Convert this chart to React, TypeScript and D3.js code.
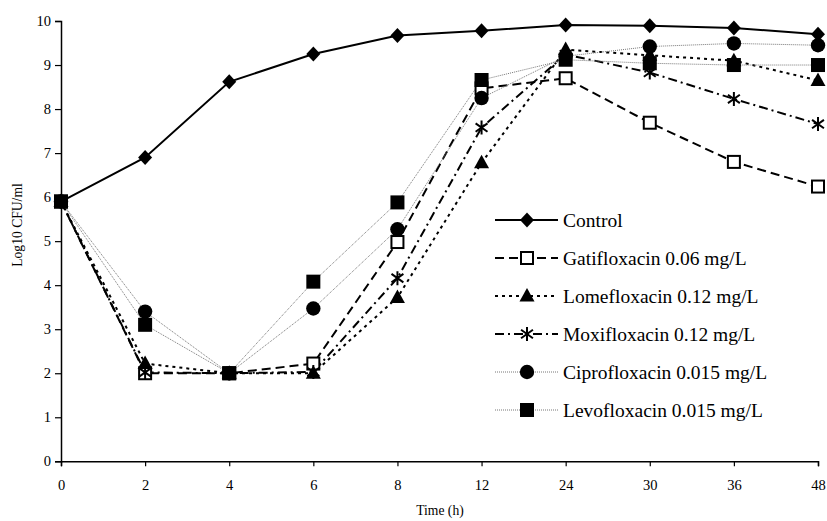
import React, { useEffect, useRef } from "react";
import * as d3 from "d3";

// time points (h) - plotted as equally spaced categories
const times = ["0", "2", "4", "6", "8", "12", "24", "30", "36", "48"];
const yTicks = [0, 1, 2, 3, 4, 5, 6, 7, 8, 9, 10];

const control = [5.9, 6.9, 8.62, 9.25, 9.67, 9.78, 9.91, 9.89, 9.84, 9.7];
const gati = [5.9, 2.0, 2.0, 2.22, 4.98, 8.47, 8.7, 7.69, 6.8, 6.24];
const lome = [5.9, 2.22, 2.0, 2.0, 3.72, 6.78, 9.35, 9.22, 9.1, 8.65];
const moxi = [5.9, 2.02, 2.0, 2.03, 4.16, 7.58, 9.24, 8.83, 8.23, 7.66];
const cipro = [5.9, 3.4, 2.0, 3.47, 5.27, 8.25, 9.2, 9.42, 9.49, 9.45];
const levo = [5.9, 3.1, 2.0, 4.08, 5.88, 8.66, 9.12, 9.04, 9.0, 9.0];

const seriesNames = [
  "Control",
  "Gatifloxacin 0.06 mg/L",
  "Lomefloxacin 0.12 mg/L",
  "Moxifloxacin 0.12 mg/L",
  "Ciprofloxacin 0.015 mg/L",
  "Levofloxacin 0.015 mg/L",
];

const FONT = "'Liberation Serif', 'Times New Roman', serif";

type Style = { stroke: string; width: number; dash: string | null; marker: string };

const styles: Style[] = [
  { stroke: "#000", width: 2, dash: null, marker: "diamond" },
  { stroke: "#000", width: 2, dash: "9,5", marker: "openSquare" },
  { stroke: "#000", width: 2, dash: "3,4", marker: "triangle" },
  { stroke: "#000", width: 2, dash: "9,4,2,4", marker: "asterisk" },
  { stroke: "#777", width: 1, dash: "1,1", marker: "circle" },
  { stroke: "#777", width: 1, dash: "1,1", marker: "square" },
];

function drawMarker(g: any, kind: string, cx: number, cy: number) {
  if (kind === "diamond") {
    g.append("path")
      .attr("d", `M${cx},${cy - 7.5}L${cx + 7},${cy}L${cx},${cy + 7.5}L${cx - 7},${cy}Z`)
      .attr("fill", "#000");
  } else if (kind === "openSquare") {
    g.append("rect")
      .attr("x", cx - 6).attr("y", cy - 6)
      .attr("width", 12).attr("height", 12)
      .attr("fill", "#fff").attr("stroke", "#000").attr("stroke-width", 2);
  } else if (kind === "triangle") {
    g.append("path")
      .attr("d", `M${cx},${cy - 8}L${cx + 7.5},${cy + 5.5}L${cx - 7.5},${cy + 5.5}Z`)
      .attr("fill", "#000");
  } else if (kind === "asterisk") {
    const r = 7;
    g.append("path")
      .attr("d", `M${cx},${cy - r}L${cx},${cy + r}M${cx - r * 0.85},${cy - r * 0.6}L${cx + r * 0.85},${cy + r * 0.6}M${cx - r * 0.85},${cy + r * 0.6}L${cx + r * 0.85},${cy - r * 0.6}`)
      .attr("stroke", "#000").attr("stroke-width", 2).attr("fill", "none");
  } else if (kind === "circle") {
    g.append("circle").attr("cx", cx).attr("cy", cy).attr("r", 7.2).attr("fill", "#000");
  } else if (kind === "square") {
    g.append("rect")
      .attr("x", cx - 7).attr("y", cy - 7)
      .attr("width", 14).attr("height", 14)
      .attr("fill", "#000");
  }
}

export default function App() {
  const ref = useRef<SVGSVGElement>(null);

  useEffect(() => {
    const svg = d3.select(ref.current);
    svg.selectAll("*").remove();

    const x = d3.scalePoint<string>().domain(times).range([61, 818]);
    const y = d3.scaleLinear().domain([0, 10]).range([461.3, 21]);

    svg.append("rect").attr("width", 827).attr("height", 521).attr("fill", "#fff");

    // axes
    const yAxis = svg.append("g")
      .attr("transform", "translate(61,0)")
      .call(d3.axisLeft(y).tickValues(yTicks).tickSize(6).tickPadding(4).tickFormat(d3.format("d")));
    const xAxis = svg.append("g")
      .attr("transform", "translate(0,461.3)")
      .call(d3.axisBottom(x).tickSize(5).tickPadding(13));
    [yAxis, xAxis].forEach((a) => {
      a.select(".domain").attr("stroke", "#000").attr("stroke-width", 1.5);
      a.selectAll(".tick line").attr("stroke", "#000").attr("stroke-width", 1.2);
      a.selectAll("text").attr("font-family", FONT).attr("font-size", 14.5).attr("fill", "#000");
    });

    svg.append("text")
      .attr("x", 440).attr("y", 515)
      .attr("text-anchor", "middle")
      .attr("font-family", FONT).attr("font-size", 13.6)
      .text("Time (h)");

    svg.append("text")
      .attr("transform", "translate(22,225) rotate(-90)")
      .attr("text-anchor", "middle")
      .attr("font-family", FONT).attr("font-size", 13.6)
      .text("Log10 CFU/ml");

    const allSeries = [control, gati, lome, moxi, cipro, levo];
    const line = d3.line<number>()
      .x((_, i) => x(times[i]) as number)
      .y((d) => y(d));

    allSeries.forEach((vals, si) => {
      const st = styles[si];
      svg.append("path")
        .attr("d", line(vals))
        .attr("fill", "none")
        .attr("stroke", st.stroke)
        .attr("stroke-width", st.width)
        .attr("stroke-dasharray", st.dash);
    });
    allSeries.forEach((vals, si) => {
      const g = svg.append("g");
      vals.forEach((v, i) => drawMarker(g, styles[si].marker, x(times[i]) as number, y(v)));
    });

    // legend
    const leg = svg.append("g");
    seriesNames.forEach((name, i) => {
      const st = styles[i];
      const ly = 220 + i * 38;
      leg.append("line")
        .attr("x1", 495).attr("x2", 558).attr("y1", ly).attr("y2", ly)
        .attr("stroke", st.stroke).attr("stroke-width", st.width)
        .attr("stroke-dasharray", st.dash);
      drawMarker(leg, st.marker, 527, ly);
      leg.append("text")
        .attr("x", 563).attr("y", ly + 6.5)
        .attr("font-family", FONT).attr("font-size", 19.5)
        .text(name);
    });
  }, []);

  return (
    <svg ref={ref} width={827} height={521} style={{ position: "absolute", left: 0, top: 0 }}></svg>
  );
}
